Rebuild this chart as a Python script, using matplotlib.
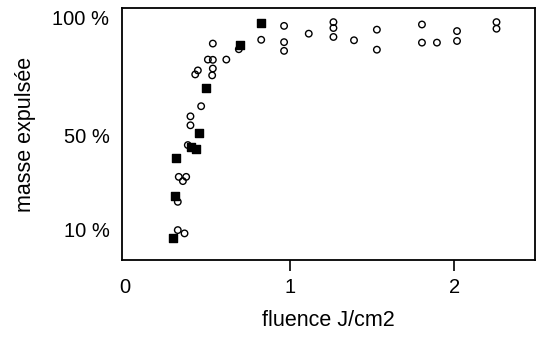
import matplotlib
matplotlib.use("Agg")
import matplotlib.pyplot as plt

plt.rcParams['font.family'] = ['Liberation Sans', 'DejaVu Sans']

# filled squares
filled_x = [0.826, 0.695, 0.488, 0.451, 0.427, 0.40, 0.309, 0.305, 0.289]
filled_y = [97.6, 88.4, 70.2, 51.1, 44.0, 45.0, 40.5, 24.2, 6.2]

# open markers
open_x = [0.826, 0.965, 0.965, 0.965, 1.115, 1.265, 1.265, 1.265, 1.39,
          1.529, 1.529, 1.803, 1.803, 1.894, 2.016, 2.016, 2.256, 2.256,
          0.532, 0.502, 0.532, 0.614, 0.532, 0.528, 0.441, 0.425, 0.461,
          0.396, 0.396, 0.38, 0.325, 0.37, 0.35, 0.319, 0.319, 0.36, 0.69]
open_y = [90.5, 96.4, 89.5, 85.8, 93.1, 98.0, 95.5, 91.7, 90.3,
          94.8, 86.3, 97.0, 89.3, 89.3, 94.2, 90.0, 98.0, 95.2,
          88.9, 82.1, 82.0, 82.1, 78.3, 75.4, 77.5, 75.8, 62.3,
          58.0, 54.2, 45.8, 32.3, 32.3, 30.5, 21.7, 9.7, 8.3, 86.5]

xticks = [0, 1, 2]
yticks = [10, 50, 100]
ytick_labels = ['10 %', '50 %', '100 %']

fig = plt.figure(figsize=(5.39, 3.38), dpi=100)
ax = fig.add_axes([122/539, 1 - 260/338, 413/539, 252/338])

ax.scatter(open_x, open_y, s=22, facecolors='none', edgecolors='black',
           linewidths=1.0, marker='o', zorder=2)
ax.scatter(filled_x, filled_y, s=30, color='black', marker='s', zorder=3)

ax.set_xlim(-0.02, 2.49)
ax.set_ylim(-3, 104)
ax.set_xticks(xticks)
ax.set_xticklabels([str(t) for t in xticks], fontsize=14.5)
ax.set_yticks(yticks)
ax.set_yticklabels(ytick_labels, fontsize=14.5)
ax.tick_params(axis='x', length=8, width=1.2, pad=5)
ax.tick_params(axis='y', length=0, pad=9)
ax.xaxis.get_major_ticks()[0].tick1line.set_visible(False)

for s in ax.spines.values():
    s.set_linewidth(1.3)

ax.set_xlabel('fluence J/cm2', fontsize=15.5, labelpad=9)
ax.set_ylabel('masse expulsée', fontsize=15.5, labelpad=12)

fig.savefig('out.png', dpi=100)
